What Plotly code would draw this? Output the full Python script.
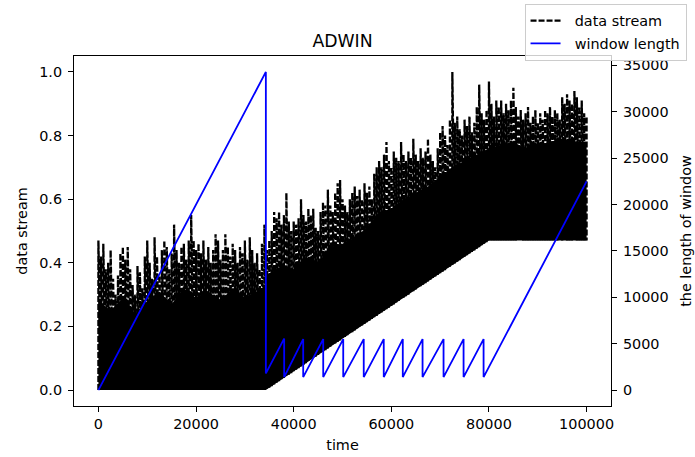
import plotly.graph_objects as go

# ---------------- data ----------------
# sample times of the data-stream envelope (every 500 steps)
ds_t = list(range(0, 100001, 500))

# upper extreme of the noisy stream, segment 1 (t = 0 .. 34000)
ds_high_seg1 = [
    0.47, 0.42, 0.46, 0.38, 0.40, 0.44, 0.35, 0.30, 0.36, 0.43,
    0.45, 0.41, 0.45, 0.38, 0.33, 0.30, 0.39, 0.37, 0.32, 0.42,
    0.47, 0.40, 0.35, 0.48, 0.42, 0.36, 0.44, 0.47, 0.45, 0.38,
    0.43, 0.52, 0.44, 0.40, 0.45, 0.46, 0.41, 0.47, 0.55, 0.47,
    0.44, 0.46, 0.43, 0.47, 0.41, 0.45, 0.40, 0.44, 0.49, 0.47,
    0.41, 0.44, 0.49, 0.45, 0.42, 0.46, 0.44, 0.40, 0.45, 0.43,
    0.47, 0.41, 0.48, 0.44, 0.40, 0.43, 0.38, 0.46, 0.52,
]
# upper extreme, segment 2 (t = 34500 .. 100000)
ds_high_seg2 = [
    0.44, 0.47, 0.50, 0.56, 0.54, 0.56, 0.52, 0.55, 0.62, 0.53,
    0.50, 0.53, 0.52, 0.54, 0.60, 0.55, 0.53, 0.57, 0.55, 0.57,
    0.51, 0.50, 0.56, 0.59, 0.58, 0.63, 0.58, 0.56, 0.62, 0.65,
    0.66, 0.60, 0.58, 0.56, 0.60, 0.62, 0.64, 0.61, 0.63, 0.60,
    0.65, 0.62, 0.64, 0.60, 0.68, 0.70, 0.72, 0.70, 0.74, 0.78,
    0.72, 0.70, 0.75, 0.73, 0.72, 0.78, 0.74, 0.72, 0.75, 0.73,
    0.79, 0.74, 0.72, 0.76, 0.73, 0.75, 0.79, 0.74, 0.72, 0.70,
    0.76, 0.81, 0.83, 0.80, 0.77, 0.85, 1.00, 0.84, 0.86, 0.82,
    0.80, 0.85, 0.83, 0.86, 0.81, 0.84, 0.89, 0.96, 0.87, 0.85,
    0.88, 0.97, 0.90, 0.86, 0.91, 0.89, 0.91, 0.87, 0.90, 0.88,
    0.91, 0.95, 0.89, 0.86, 0.88, 0.85, 0.87, 0.89, 0.84, 0.86,
    0.88, 0.84, 0.87, 0.85, 0.88, 0.87, 0.89, 0.86, 0.88, 0.87,
    0.85, 0.92, 0.90, 0.93, 0.91, 0.90, 0.94, 0.92, 0.89, 0.91,
    0.87, 0.86,
]
# lower extreme, segment 1 (t = 0 .. 34000)
ds_low_seg1 = [
    0.0, 0.0, 0.0, 0.0, 0.0, 0.0, 0.0, 0.0, 0.0, 0.0,
    0.0, 0.0, 0.0, 0.0, 0.0, 0.0, 0.0, 0.0, 0.0, 0.0,
    0.0, 0.0, 0.0, 0.0, 0.0, 0.0, 0.0, 0.0, 0.0, 0.0,
    0.0, 0.0, 0.0, 0.0, 0.0, 0.0, 0.0, 0.0, 0.0, 0.0,
    0.0, 0.0, 0.0, 0.0, 0.0, 0.0, 0.0, 0.0, 0.0, 0.0,
    0.0, 0.0, 0.0, 0.0, 0.0, 0.0, 0.0, 0.0, 0.0, 0.0,
    0.0, 0.0, 0.0, 0.0, 0.0, 0.0, 0.0, 0.0, 0.0,
]
# lower extreme, segment 2 (t = 34500 .. 100000)
ds_low_seg2 = [
    0.002, 0.007, 0.012, 0.017, 0.023, 0.028, 0.033, 0.038, 0.043, 0.048,
    0.053, 0.059, 0.064, 0.069, 0.074, 0.079, 0.084, 0.089, 0.095, 0.100,
    0.105, 0.110, 0.115, 0.120, 0.125, 0.131, 0.136, 0.141, 0.146, 0.151,
    0.156, 0.161, 0.167, 0.172, 0.177, 0.182, 0.187, 0.192, 0.197, 0.203,
    0.208, 0.213, 0.218, 0.223, 0.228, 0.233, 0.239, 0.244, 0.249, 0.254,
    0.259, 0.264, 0.269, 0.275, 0.280, 0.285, 0.290, 0.295, 0.300, 0.305,
    0.311, 0.316, 0.321, 0.326, 0.331, 0.336, 0.341, 0.347, 0.352, 0.357,
    0.362, 0.367, 0.372, 0.377, 0.383, 0.388, 0.393, 0.398, 0.403, 0.408,
    0.413, 0.419, 0.424, 0.429, 0.434, 0.439, 0.444, 0.449, 0.455, 0.460,
    0.465, 0.470,
    0.47, 0.47, 0.47, 0.47, 0.47, 0.47, 0.47, 0.47, 0.47, 0.47,
    0.47, 0.47, 0.47, 0.47, 0.47, 0.47, 0.47, 0.47, 0.47, 0.47,
    0.47, 0.47, 0.47, 0.47, 0.47, 0.47, 0.47, 0.47, 0.47, 0.47,
    0.47, 0.47, 0.47, 0.47, 0.47, 0.47, 0.47, 0.47, 0.47, 0.47,
]

# dense (solid) core of the stream: top edge and bottom edge
core_t = [0, 2500, 5000, 7500, 10000, 12500, 15000, 17500, 20000, 22500,
          25000, 27500, 30000, 32500, 34300,
          34300, 37500, 40000, 42500, 45000, 47500, 50000, 52500, 55000,
          57500, 60000, 62500, 65000, 67500, 70000, 72500, 75000, 77500,
          80000, 82500, 85000, 87500, 90000, 92500, 95000, 97500, 100000]
core_top = [0.28, 0.25, 0.29, 0.24, 0.28, 0.31, 0.27, 0.32, 0.29, 0.31,
            0.28, 0.32, 0.29, 0.31, 0.33,
            0.36, 0.39, 0.38, 0.42, 0.40, 0.45, 0.46, 0.48, 0.51,
            0.56, 0.57, 0.60, 0.62, 0.64, 0.67, 0.70, 0.72, 0.74,
            0.76, 0.77, 0.78, 0.76, 0.77, 0.78, 0.79, 0.78, 0.78]
core_bottom_t = [100000, 80000, 34300, 0]
core_bottom = [0.47, 0.47, 0.0, 0.0]

# ADWIN window length (breakpoints of the saw-tooth)
window_t = [0, 34300, 34300, 38050, 38050, 41950, 41950, 46050, 46050,
            50150, 50150, 54350, 54350, 58450, 58450, 62350, 62350,
            66400, 66400, 70700, 70700, 74800, 74800, 78900, 78900, 99999]
window_len = [0, 34300, 1800, 5550, 1400, 5500, 1400, 5500, 1400,
              5500, 1400, 5500, 1400, 5500, 1400, 5500, 1400,
              5500, 1400, 5500, 1400, 5500, 1400, 5500, 1400, 22500]

x_ticks = [0, 20000, 40000, 60000, 80000, 100000]
y_ticks = [0.0, 0.2, 0.4, 0.6, 0.8, 1.0]
y2_ticks = [0, 5000, 10000, 15000, 20000, 25000, 30000, 35000]

# ---------------- figure ----------------
ds_high = ds_high_seg1 + ds_high_seg2
ds_low = ds_low_seg1 + ds_low_seg2
zx, zy = [], []
for t, lo, hi in zip(ds_t, ds_low, ds_high):
    zx += [t, t]
    zy += [lo, hi]

FONT = "DejaVu Sans"
FS = 14.4
fig = go.Figure()

fig.add_trace(go.Scatter(
    x=core_t + core_bottom_t, y=core_top + core_bottom,
    mode="lines", fill="toself", fillcolor="black",
    line=dict(width=0, color="black"), showlegend=False, hoverinfo="skip",
))
fig.add_trace(go.Scatter(
    x=zx, y=zy, mode="lines", name="\u00a0\u00a0data stream",
    line=dict(color="black", width=2.3, dash="6px,2px"),
    legendgroup="a",
))
fig.add_trace(go.Scatter(
    x=window_t, y=window_len, mode="lines", name="\u00a0\u00a0window length",
    line=dict(color="#0000ff", width=1.8), yaxis="y2",
    legendgroup="b",
))

axis_common = dict(
    showgrid=False, zeroline=False, showline=True, linecolor="black",
    linewidth=1, ticks="outside", ticklen=5, tickwidth=1, tickcolor="black",
    tickfont=dict(family=FONT, size=FS, color="black"), automargin=False,
)

fig.update_layout(
    template="none",
    width=695, height=457, autosize=False,
    margin=dict(l=74, r=84, t=56, b=51, pad=0, autoexpand=False),
    paper_bgcolor="white", plot_bgcolor="white",
    font=dict(family=FONT, size=FS, color="black"),
    title=dict(text="ADWIN", x=0.5, xref="paper", xanchor="center",
               y=1 - 41 / 457, yref="container", yanchor="middle",
               font=dict(family=FONT, size=17.3, color="black")),
    xaxis=dict(**axis_common, range=[-5000, 105000], tickvals=x_ticks,
               tickformat="d", mirror=True,
               title=dict(text="time", standoff=8,
                          font=dict(family=FONT, size=FS, color="black"))),
    yaxis=dict(**axis_common, range=[-0.05, 1.05], tickvals=y_ticks,
               tickformat=".1f", ticklabelstandoff=3,
               title=dict(text="data stream", standoff=8,
                          font=dict(family=FONT, size=FS, color="black"))),
    yaxis2=dict(**axis_common, range=[-1715, 36015], tickvals=y2_ticks,
                tickformat="d", overlaying="y", side="right",
                ticklabelstandoff=3,
                title=dict(text="the length of window", standoff=13,
                           font=dict(family=FONT, size=FS, color="black"))),
    legend=dict(x=0.839, y=1.149, xanchor="left", yanchor="top",
                bgcolor="rgba(255,255,255,0.8)", bordercolor="#cccccc",
                borderwidth=1, font=dict(family=FONT, size=FS, color="black"),
                traceorder="grouped", tracegroupgap=1, itemwidth=30),
    showlegend=True,
)

fig.write_html("out.html")
